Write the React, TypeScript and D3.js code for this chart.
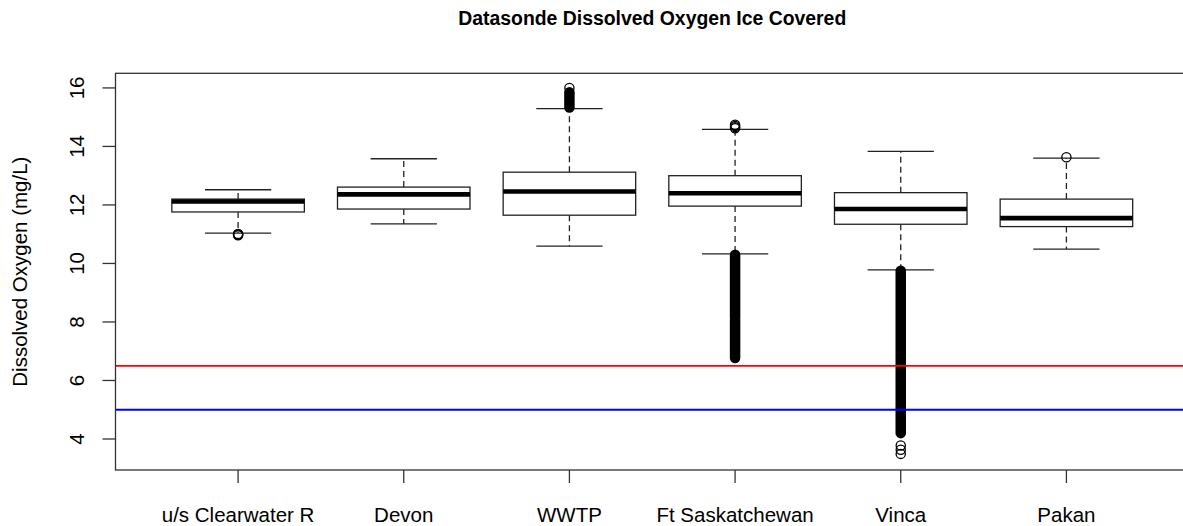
import React from "react";
import * as d3 from "d3";

const sites = ["u/s Clearwater R", "Devon", "WWTP", "Ft Saskatchewan", "Vinca", "Pakan"];
const lowerWhisker = [11.04, 11.35, 10.59, 10.33, 9.78, 10.49];
const q1 = [11.76, 11.86, 11.65, 11.96, 11.34, 11.26];
const median = [12.12, 12.36, 12.46, 12.4, 11.86, 11.55];
const q3 = [12.2, 12.61, 13.12, 13.0, 12.42, 12.2];
const upperWhisker = [12.52, 13.58, 15.29, 14.58, 13.83, 13.6];

// individual outliers: [site index, value]
const outlierPoints: [number, number][] = [
  [0, 11.01], [0, 11.0], [0, 10.98], [0, 10.96],
  [2, 16.0],
  [3, 14.74], [3, 14.7], [3, 14.66], [3, 14.62],
  [4, 3.78], [4, 3.63], [4, 3.49],
  [5, 13.63],
];
// dense runs of overlapping outliers: [site index, low, high]
const denseOutlierBands: [number, number, number][] = [
  [2, 15.33, 15.85],
  [3, 6.77, 8.08],
  [3, 8.14, 10.3],
  [4, 4.2, 9.75],
];

const yTicks = [4, 6, 8, 10, 12, 14, 16];
const redGuide = 6.5;
const blueGuide = 5.0;
const yDomain = [2.94, 16.5];

const title = "Datasonde Dissolved Oxygen Ice Covered";
const yTitle = "Dissolved Oxygen (mg/L)";

const W = 1183;
const H = 526;
const left = 115.5;
const right = 1189;
const top = 73.3;
const bottom = 470;

export default function App() {
  const x = d3.scaleLinear().domain([0.26, sites.length + 0.74]).range([left, right]);
  const y = d3.scaleLinear().domain(yDomain).range([bottom, top]);
  const unit = x(1) - x(0);
  const boxHalf = 0.4 * unit;
  const stapleHalf = 0.2 * unit;
  const font = "'Liberation Sans', Arial, sans-serif";
  const lineColor = "#222";
  const r = 4.6;

  return (
    <svg width={W} height={H} style={{ position: "absolute", left: 0, top: 0, background: "#fff" }} fontFamily={font}>
      <defs>
        <clipPath id="plotClip">
          <rect x={left} y={top} width={right - left} height={bottom - top} />
        </clipPath>
      </defs>
      <rect x={0} y={0} width={W} height={H} fill="#fff" />
      <text x={(left + right) / 2} y={25} textAnchor="middle" fontSize={19.4} fontWeight="bold" fill="#000">
        {title}
      </text>

      <g clipPath="url(#plotClip)">
        {sites.map((s, i) => {
          const cx = x(i + 1);
          return (
            <g key={s}>
              <line x1={cx} x2={cx} y1={y(q3[i])} y2={y(upperWhisker[i])} stroke={lineColor} strokeWidth={1.3} strokeDasharray="6,4" />
              <line x1={cx} x2={cx} y1={y(q1[i])} y2={y(lowerWhisker[i])} stroke={lineColor} strokeWidth={1.3} strokeDasharray="6,4" />
              <line x1={cx - stapleHalf} x2={cx + stapleHalf} y1={y(upperWhisker[i])} y2={y(upperWhisker[i])} stroke={lineColor} strokeWidth={1.3} />
              <line x1={cx - stapleHalf} x2={cx + stapleHalf} y1={y(lowerWhisker[i])} y2={y(lowerWhisker[i])} stroke={lineColor} strokeWidth={1.3} />
              <rect x={cx - boxHalf} y={y(q3[i])} width={2 * boxHalf} height={y(q1[i]) - y(q3[i])} fill="#fff" stroke={lineColor} strokeWidth={1.3} />
              <line x1={cx - boxHalf} x2={cx + boxHalf} y1={y(median[i])} y2={y(median[i])} stroke="#000" strokeWidth={4.6} />
            </g>
          );
        })}
        {denseOutlierBands.map(([i, lo, hi], k) => (
          <line key={"b" + k} x1={x(i + 1)} x2={x(i + 1)} y1={y(lo)} y2={y(hi)} stroke="#000" strokeWidth={2 * r + 1.3} strokeLinecap="round" />
        ))}
        {outlierPoints.map(([i, v], k) => (
          <circle key={"o" + k} cx={x(i + 1)} cy={y(v)} r={r} fill="none" stroke="#000" strokeWidth={1.3} />
        ))}
        <line x1={left} x2={right} y1={y(redGuide)} y2={y(redGuide)} stroke="#ff0000" strokeWidth={1.8} />
        <line x1={left} x2={right} y1={y(blueGuide)} y2={y(blueGuide)} stroke="#0000ff" strokeWidth={1.8} />
      </g>

      <rect x={left} y={top} width={right - left} height={bottom - top} fill="none" stroke="#333" strokeWidth={1.3} />

      {yTicks.map((t) => (
        <g key={t}>
          <line x1={left - 13} x2={left} y1={y(t)} y2={y(t)} stroke="#333" strokeWidth={1.3} />
          <text transform={`translate(83.5,${y(t)}) rotate(-90)`} textAnchor="middle" fontSize={20.5} fill="#000">
            {t}
          </text>
        </g>
      ))}
      {sites.map((s, i) => (
        <g key={"x" + s}>
          <line x1={x(i + 1)} x2={x(i + 1)} y1={bottom} y2={bottom + 13} stroke="#333" strokeWidth={1.3} />
          <text x={x(i + 1)} y={521.5} textAnchor="middle" fontSize={20.5} fill="#000">
            {s}
          </text>
        </g>
      ))}
      <text transform={`translate(27,${(top + bottom) / 2}) rotate(-90)`} textAnchor="middle" fontSize={20.5} fill="#000">
        {yTitle}
      </text>
    </svg>
  );
}
